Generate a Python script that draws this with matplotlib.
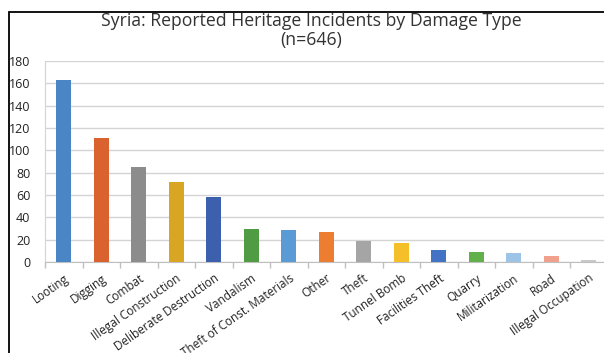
import matplotlib
matplotlib.use("Agg")
import matplotlib.pyplot as plt
from matplotlib.patches import Rectangle
import numpy as np

# =========================
# DATA
# =========================
categories = [
    "Looting", "Digging", "Combat", "Illegal Construction",
    "Deliberate Destruction", "Vandalism", "Theft of Const. Materials",
    "Other", "Theft", "Tunnel Bomb", "Facilities Theft", "Quarry",
    "Militarization", "Road", "Illegal Occupation",
]
incidents = [163, 111, 85, 72, 58, 30, 29, 27, 19, 17, 11, 9, 8, 5, 2]
bar_colors = [
    "#4a86c6", "#d9622e", "#8c8c8c", "#d9a623", "#3c5fae", "#4f9c42",
    "#5b9bd5", "#ed7d31", "#a5a5a5", "#f5bf2a", "#4472c4", "#62b04c",
    "#9dc3e6", "#f0a08c", "#c9c9c9",
]
y_ticks = list(range(0, 181, 20))

plt.rcParams["font.family"] = ["Open Sans", "DejaVu Sans"]

fig = plt.figure(figsize=(6.04, 3.53), dpi=100)

# black frame around the chart (cut off on the right and bottom)
fig.patches.append(Rectangle((8.5 / 604, -0.1), 1.2, 1 - 11.5 / 353 + 0.1,
                             transform=fig.transFigure, fill=False,
                             edgecolor="black", linewidth=1.3))

ax = fig.add_axes([45 / 604, 1 - 262 / 353, 562.5 / 604, 201 / 353])

x = np.arange(len(categories))
ax.bar(x, incidents, width=0.4, color=bar_colors, zorder=3)

ax.set_xlim(-0.5, len(categories) - 0.5)
ax.set_ylim(0, 180)
ax.set_yticks(y_ticks)
ax.tick_params(axis="y", length=0, labelsize=9, pad=10.5, colors="#222222")
ax.grid(axis="y", color="#d4d4d4", linewidth=1, zorder=0)

ax.set_xticks(x)
ax.set_xticklabels(categories, rotation=35, ha="right",
                   rotation_mode="anchor", fontsize=8.5, color="#222222")
ax.tick_params(axis="x", length=0, pad=7)
ax.set_xticks(np.arange(-0.5, len(categories), 1), minor=True)
ax.tick_params(axis="x", which="minor", length=4, color="#bfbfbf", width=1)

for side in ["top", "right"]:
    ax.spines[side].set_visible(False)
ax.spines["left"].set_color("#d4d4d4")
ax.spines["bottom"].set_color("#bfbfbf")

fig.text(311 / 604, 1 - 26 / 353, "Syria: Reported Heritage Incidents by Damage Type",
         ha="center", va="baseline", fontsize=12.7, color="#333333")
fig.text(311 / 604, 1 - 45 / 353, "(n=646)",
         ha="center", va="baseline", fontsize=12.7, color="#333333")

fig.savefig("out.png", dpi=100)
